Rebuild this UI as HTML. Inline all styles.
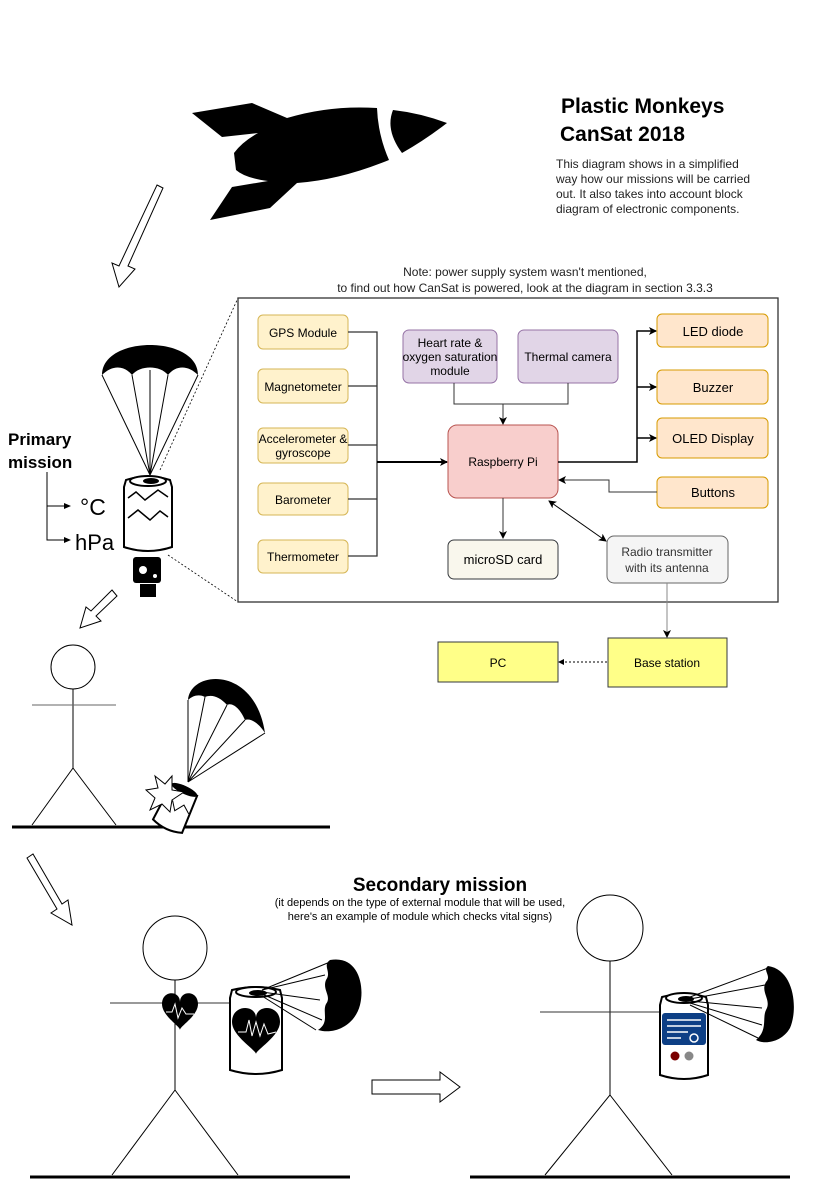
<!DOCTYPE html>
<html><head><meta charset="utf-8"><style>
body{margin:0;background:#fff}
svg{display:block}
text{font-family:"Liberation Sans",Arial,sans-serif}
</style></head><body>
<svg width="840" height="1180" viewBox="0 0 840 1180" xmlns="http://www.w3.org/2000/svg">
<defs>
<marker id="ar" markerWidth="8" markerHeight="8" refX="7" refY="4" orient="auto" markerUnits="userSpaceOnUse"><path d="M0,0 L8,4 L0,8 L2,4z" fill="#000"/></marker>
<marker id="ars" markerWidth="8" markerHeight="8" refX="1" refY="4" orient="auto" markerUnits="userSpaceOnUse"><path d="M8,0 L0,4 L8,8 L6,4z" fill="#000"/></marker>
<marker id="sa" markerWidth="6" markerHeight="6" refX="5" refY="3" orient="auto" markerUnits="userSpaceOnUse"><path d="M0,0 L6,3 L0,6z" fill="#000"/></marker>
<g id="chute">
<path d="M-48,0 C-48,-40 48,-40 48,0 C38,-10 26,-10 18,0 C10,-10 -10,-10 -18,0 C-26,-10 -38,-10 -48,0z" fill="#000"/>
<path d="M-48,0 L0,100 M-18,0 L0,100 M18,0 L0,100 M48,0 L0,100 M0,-5 L0,100" stroke="#000" stroke-width="1" fill="none"/>
</g>
<g id="can">
<path d="M-22,-35 Q0,-42 22,-35 L24,-28 L24,32 Q0,40 -24,32 L-24,-28z" fill="#fff" stroke="#000" stroke-width="2"/>
<ellipse cx="0" cy="-34" rx="18" ry="5" fill="#fff" stroke="#000" stroke-width="2"/>
<ellipse cx="3" cy="-34" rx="8" ry="3" fill="#000"/>
</g>
</defs>

<!-- rocket -->
<path d="M192,113 L252,103 L287,118 Q330,105 377,108 Q378,135 389,160 Q340,180 297,183 L270,208 L210,220 L232,187 L268,181 Q245,178 236,170 L234,153 Q242,142 258,133 L222,137z" fill="#000"/>
<path d="M393,110 Q420,113 447,123 Q425,140 402,153 Q385,130 393,110z" fill="#000"/>

<text x="561" y="113" font-size="21" font-weight="bold">Plastic Monkeys</text>
<text x="560" y="141" font-size="21" font-weight="bold">CanSat 2018</text>
<g font-size="12" fill="#222">
<text x="556" y="168">This diagram shows in a simplified</text>
<text x="556" y="183">way how our missions will be carried</text>
<text x="556" y="198">out. It also takes into account block</text>
<text x="556" y="213">diagram of electronic components.</text>
</g>

<!-- hollow arrows -->
<path d="M157,185 L163,188 L128,266 L135,269 L119,287 L112,263 L119,266z" fill="#fff" stroke="#000"/>
<path d="M112,590 L117,596 L96,616 L101,621 L80,628 L86,607 L91,611z" fill="#fff" stroke="#000"/>
<path d="M27,858 L33,854 L62,904 L68,900 L72,925 L51,913 L57,909z" fill="#fff" stroke="#000"/>
<path d="M372,1080 L440,1080 L440,1072 L460,1087 L440,1102 L440,1094 L372,1094z" fill="#fff" stroke="#000"/>

<!-- note -->
<text x="525" y="276" font-size="12" text-anchor="middle" fill="#222">Note: power supply system wasn't mentioned,</text>
<text x="525" y="292" font-size="12" text-anchor="middle" fill="#222">to find out how CanSat is powered, look at the diagram in section 3.3.3</text>

<!-- dashed zoom lines -->
<path d="M160,470 L238,298 M168,555 L238,602" stroke="#000" stroke-dasharray="2,2" stroke-width="0.8"/>
<rect x="238" y="298" width="540" height="304" fill="#fff" stroke="#333" stroke-width="1.3"/>

<!-- sensors -->
<g stroke="#d6b656" fill="#fff2cc">
<rect x="258" y="315" width="90" height="34" rx="5"/>
<rect x="258" y="369" width="90" height="34" rx="5"/>
<rect x="258" y="428" width="90" height="35" rx="5"/>
<rect x="258" y="483" width="90" height="32" rx="5"/>
<rect x="258" y="540" width="90" height="33" rx="5"/>
</g>
<g font-size="12" text-anchor="middle">
<text x="303" y="337">GPS Module</text>
<text x="303" y="391">Magnetometer</text>
<text x="303" y="443">Accelerometer &amp;</text>
<text x="303" y="457">gyroscope</text>
<text x="303" y="504">Barometer</text>
<text x="303" y="561">Thermometer</text>
</g>
<path d="M348,332 H377 V556 H348 M348,386 H377 M348,445 H377 M348,499 H377" stroke="#333" fill="none" stroke-width="1.3"/>
<path d="M377,462 H447" stroke="#000" stroke-width="2" marker-end="url(#ar)"/>

<g stroke="#9673a6" fill="#e1d5e7">
<rect x="403" y="330" width="94" height="53" rx="6"/>
<rect x="518" y="330" width="100" height="53" rx="6"/>
</g>
<g font-size="12" text-anchor="middle">
<text x="450" y="347">Heart rate &amp;</text>
<text x="450" y="361">oxygen saturation</text>
<text x="450" y="375">module</text>
<text x="568" y="361">Thermal camera</text>
</g>
<path d="M454,383 V404 H568 V383 M503,404 V424" stroke="#333" fill="none" marker-end="url(#ar)"/>

<rect x="448" y="425" width="110" height="73" rx="9" fill="#f8cecc" stroke="#b85450"/>
<text x="503" y="466" font-size="12" text-anchor="middle">Raspberry Pi</text>

<g stroke="#d79b00" fill="#ffe6cc">
<rect x="657" y="314" width="111" height="33" rx="5"/>
<rect x="657" y="370" width="111" height="34" rx="5"/>
<rect x="657" y="418" width="111" height="40" rx="5"/>
<rect x="657" y="477" width="111" height="31" rx="5"/>
</g>
<g font-size="13" text-anchor="middle">
<text x="713" y="336">LED diode</text>
<text x="713" y="392">Buzzer</text>
<text x="713" y="443">OLED Display</text>
<text x="713" y="497">Buttons</text>
</g>
<path d="M558,462 H637 V331 H656 M637,387 H656 M637,438 H656" stroke="#000" stroke-width="1.5" fill="none"/>
<path d="M645,331 H656" stroke="#000" marker-end="url(#ar)"/>
<path d="M645,387 H656" stroke="#000" marker-end="url(#ar)"/>
<path d="M645,438 H656" stroke="#000" marker-end="url(#ar)"/>
<path d="M657,492 H609 V480 H559" stroke="#333" fill="none" marker-end="url(#ar)"/>

<rect x="448" y="540" width="110" height="39" rx="6" fill="#f9f7ed" stroke="#36393d"/>
<text x="503" y="564" font-size="13" text-anchor="middle">microSD card</text>
<path d="M503,498 V538" stroke="#333" marker-end="url(#ar)"/>

<rect x="607" y="536" width="121" height="47" rx="7" fill="#f5f5f5" stroke="#666"/>
<text x="667" y="556" font-size="12" text-anchor="middle" fill="#333">Radio transmitter</text>
<text x="667" y="572" font-size="12" text-anchor="middle" fill="#333">with its antenna</text>
<path d="M549,501 L606,541" stroke="#000" marker-start="url(#ars)" marker-end="url(#ar)"/>
<path d="M667,583 V637" stroke="#888" marker-end="url(#ar)"/>

<rect x="608" y="638" width="119" height="49" fill="#ffff88" stroke="#36393d"/>
<text x="667" y="667" font-size="12" text-anchor="middle">Base station</text>
<rect x="438" y="642" width="120" height="40" fill="#ffff88" stroke="#36393d"/>
<text x="498" y="667" font-size="12" text-anchor="middle">PC</text>
<path d="M607,662 H559" stroke="#000" stroke-dasharray="2,2" marker-end="url(#sa)"/>

<!-- primary mission -->
<text x="8" y="445" font-size="17" font-weight="bold">Primary</text>
<text x="8" y="468" font-size="17" font-weight="bold">mission</text>
<path d="M47,472 V540 H70 M47,506 H70" stroke="#000" fill="none"/>
<path d="M64,503 L71,506 L64,509z M64,537 L71,540 L64,543z" fill="#000"/>
<text x="80" y="515" font-size="23">°C</text>
<text x="75" y="550" font-size="22">hPa</text>

<use href="#chute" transform="translate(150,375)"/>
<use href="#can" transform="translate(148,515)"/>
<path d="M128,498 L136,492 L145,500 L158,490 L168,497 M128,518 L138,510 L150,520 L160,511 L168,517" stroke="#000" fill="none" stroke-width="1.5"/>
<rect x="133" y="557" width="28" height="26" rx="3" fill="#000"/>
<circle cx="143" cy="570" r="4" fill="#fff"/><circle cx="155" cy="576" r="2" fill="#fff"/>
<path d="M140,584 H156 V597 H140z" fill="#000"/>

<!-- stick man 1 -->
<circle cx="73" cy="667" r="22" fill="#fff" stroke="#000"/>
<path d="M73,689 V768 L32,825 M73,768 L116,825" stroke="#000" fill="none"/>
<path d="M32,705 H116" stroke="#666"/>
<path d="M12,827 H330" stroke="#000" stroke-width="3"/>
<g transform="translate(176,808) rotate(25)">
<path d="M-14,-20 L14,-20 L16,20 Q0,26 -16,20z" fill="#fff" stroke="#000" stroke-width="2"/>
<ellipse cx="0" cy="-20" rx="14" ry="4" fill="#000"/>
<path d="M-14,0 L-6,-5 L0,3 L6,-6 L14,0" stroke="#000" fill="none"/>
</g>
<path d="M155,776 L165,784 L172,776 L172,790 L184,792 L172,800 L170,812 L162,804 L150,810 L155,798 L146,790 L158,788z" fill="#fff" stroke="#000"/>
<path d="M188,700 C190,670 255,665 265,733 C258,722 250,718 245,720 C240,708 232,702 227,705 C220,697 212,694 205,697 C200,694 193,695 188,700z" fill="#000"/>
<path d="M188,700 L188,782 M205,697 L188,782 M227,705 L188,782 M245,720 L188,782 M265,733 L188,782" stroke="#000" fill="none"/>

<!-- secondary -->
<text x="440" y="891" font-size="19" font-weight="bold" text-anchor="middle">Secondary mission</text>
<text x="420" y="906" font-size="11" text-anchor="middle">(it depends on the type of external module that will be used,</text>
<text x="420" y="920" font-size="11" text-anchor="middle">here's an example of module which checks vital signs)</text>

<circle cx="175" cy="948" r="32" fill="#fff" stroke="#000"/>
<path d="M175,980 V1090 L112,1175 M175,1090 L238,1175" stroke="#000" fill="none"/>
<path d="M110,1003 H240" stroke="#333"/>
<path d="M30,1177 H350" stroke="#000" stroke-width="3"/>
<path d="M180,1002 C180,990 162,990 162,1004 C162,1016 180,1026 180,1030 C180,1026 198,1016 198,1004 C198,990 180,990 180,1002z" fill="#000"/>
<path d="M166,1012 L172,1012 L175,1004 L178,1018 L182,1008 L186,1014 L194,1014" stroke="#fff" fill="none"/>

<g transform="translate(256,1030)">
<path d="M-24,-40 Q0,-46 24,-40 L26,-32 L26,40 Q0,48 -26,40 L-26,-32z" fill="#fff" stroke="#000" stroke-width="2"/>
<ellipse cx="0" cy="-38" rx="20" ry="5" fill="#fff" stroke="#000" stroke-width="2"/>
<ellipse cx="2" cy="-37" rx="9" ry="3" fill="#000"/>
<path d="M0,-12 C0,-26 -24,-26 -24,-8 C-24,6 0,20 0,24 C0,20 24,6 24,-8 C24,-26 0,-26 0,-12z" fill="#000"/>
<path d="M-18,2 L-10,2 L-7,-10 L-4,6 L0,-8 L4,6 L8,-6 L12,4 L20,2" stroke="#fff" fill="none"/>
</g>
<path d="M262,990 L330,962 M262,990 L325,975 M262,992 L320,1000 M262,994 L322,1020 M262,996 L316,1030" stroke="#000"/>
<path d="M330,960 C358,955 365,985 360,1005 C355,1025 335,1035 318,1030 C330,1022 322,1012 326,1004 C332,996 322,990 326,980 C332,972 322,966 330,960z" fill="#000"/>

<circle cx="610" cy="928" r="33" fill="#fff" stroke="#000"/>
<path d="M610,961 V1095 L545,1175 M610,1095 L672,1175" stroke="#000" fill="none"/>
<path d="M540,1012 H660" stroke="#333"/>
<path d="M470,1177 H790" stroke="#000" stroke-width="3"/>
<g transform="translate(684,1035)">
<path d="M-22,-38 Q0,-44 22,-38 L24,-30 L24,40 Q0,48 -24,40 L-24,-30z" fill="#fff" stroke="#000" stroke-width="2"/>
<ellipse cx="0" cy="-37" rx="18" ry="5" fill="#fff" stroke="#000" stroke-width="2"/>
<ellipse cx="2" cy="-36" rx="8" ry="3" fill="#000"/>
<rect x="-22" y="-22" width="44" height="32" rx="3" fill="#0d3f85"/>
<path d="M-17,-15 H17 M-17,-9 H17 M-17,-3 H4 M-17,3 H-3" stroke="#fff" stroke-width="1.5"/>
<circle cx="10" cy="3" r="4" stroke="#fff" fill="none" stroke-width="1.5"/>
<circle cx="-9" cy="21" r="4.5" fill="#7a0000"/>
<circle cx="5" cy="21" r="4.5" fill="#888"/>
</g>
<path d="M690,997 L768,968 M690,999 L765,985 M690,1001 L762,1008 M690,1003 L762,1025 M690,1005 L758,1038" stroke="#000"/>
<path d="M768,966 C795,970 798,1010 790,1028 C782,1042 765,1045 756,1040 C768,1030 762,1018 766,1010 C772,1000 760,992 766,982 C772,976 762,970 768,966z" fill="#000"/>
</svg>
</body></html>
